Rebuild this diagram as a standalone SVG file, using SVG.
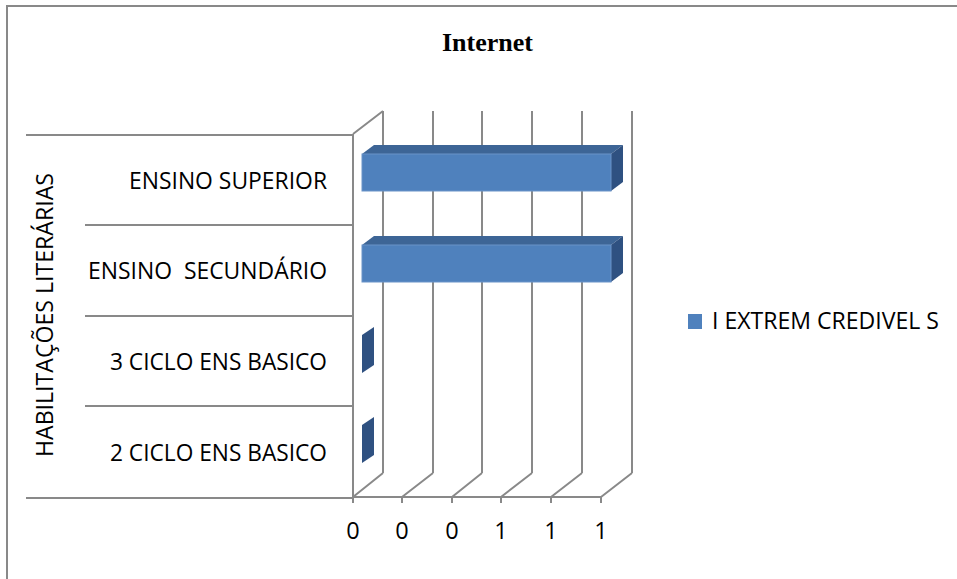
<svg xmlns="http://www.w3.org/2000/svg" width="957" height="579" viewBox="0 0 957 579">
<style>
.grid{stroke:#898989;stroke-width:2;fill:none}
.lbl{font-family:"Open Sans","Noto Sans",sans-serif;font-size:23.5px;fill:#000}
.title{font-family:"Liberation Serif","Times New Roman",serif;font-size:26px;font-weight:bold;fill:#000}
.front{fill:#4F81BD;stroke:#6A93C8;stroke-width:1}
.top{fill:#3D6596}
.side{fill:#2F5181}
</style>
<rect width="957" height="579" fill="#ffffff"/>
<g id="frame"><path class="grid" d="M7,579 V6 H957"/></g>
<g id="title"><text class="title" x="487.5" y="51" text-anchor="middle" textLength="91" lengthAdjust="spacingAndGlyphs">Internet</text></g>
<g id="axes">
<path class="grid" d="M383,111 V473 M433,111 V473 M482,111 V473 M532,111 V473 M582,111 V473 M632,111 V473"/>
<path class="grid" d="M353,134 V497 M353,134 L383,111 M353,497 L383,473"/>
<path class="grid" d="M353,497 H601 M402,497 L433,473 M452,497 L482,473 M501,497 L532,473 M551,497 L582,473 M601,497 L632,473"/>
<path class="grid" d="M353,497 V503 M402,497 V503 M452,497 V503 M501,497 V503 M551,497 V503 M601,497 V503"/>
<path class="grid" d="M26,135 H353 M85,225 H353 M85,316 H353 M85,406 H353 M26,498 H353"/>
</g>
<g id="bar-superior">
<polygon class="top" points="362,154 374,145 623,145 611,154"/>
<polygon class="side" points="611,154 623,145 623,182 611,191"/>
<rect class="front" x="362" y="154" width="249" height="37"/>
</g>
<g id="bar-secundario">
<polygon class="top" points="362,245 374,236 623,236 611,245"/>
<polygon class="side" points="611,245 623,236 623,273 611,282"/>
<rect class="front" x="362" y="245" width="249" height="37"/>
</g>
<g id="bar-3ciclo"><polygon class="side" points="362,335 374,327 374,365 362,373"/></g>
<g id="bar-2ciclo"><polygon class="side" points="362,425 374,417 374,455 362,463"/></g>
<g id="category-labels">
<text class="lbl" x="327" y="189" text-anchor="end" textLength="198" lengthAdjust="spacingAndGlyphs">ENSINO SUPERIOR</text>
<text class="lbl" x="327" y="279" text-anchor="end" textLength="239" lengthAdjust="spacingAndGlyphs" xml:space="preserve">ENSINO  SECUNDÁRIO</text>
<text class="lbl" x="327" y="370" text-anchor="end" textLength="217" lengthAdjust="spacingAndGlyphs">3 CICLO ENS BASICO</text>
<text class="lbl" x="327" y="461" text-anchor="end" textLength="217" lengthAdjust="spacingAndGlyphs">2 CICLO ENS BASICO</text>
</g>
<g id="axis-title"><text class="lbl" transform="translate(53,315) rotate(-90)" x="0" y="0" text-anchor="middle" textLength="284" lengthAdjust="spacingAndGlyphs">HABILITAÇÕES LITERÁRIAS</text></g>
<g id="x-labels">
<text class="lbl" x="353" y="539" text-anchor="middle">0</text>
<text class="lbl" x="402" y="539" text-anchor="middle">0</text>
<text class="lbl" x="452" y="539" text-anchor="middle">0</text>
<text class="lbl" x="501" y="539" text-anchor="middle">1</text>
<text class="lbl" x="551" y="539" text-anchor="middle">1</text>
<text class="lbl" x="601" y="539" text-anchor="middle">1</text>
</g>
<g id="legend">
<rect x="688" y="314" width="14" height="15" fill="#4F81BD"/>
<text class="lbl" x="712" y="329" textLength="227" lengthAdjust="spacingAndGlyphs">I EXTREM CREDIVEL S</text>
</g>
</svg>
